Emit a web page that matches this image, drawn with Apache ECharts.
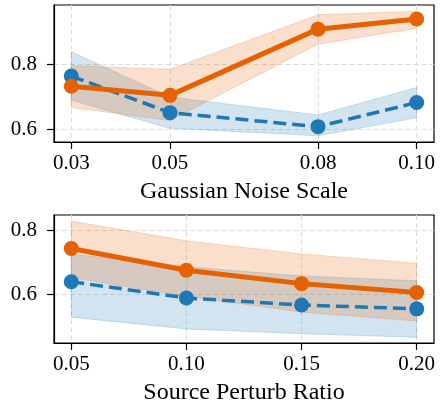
<!DOCTYPE html>
<html>
<head>
    <meta charset="utf-8">
    <script src="https://cdn.jsdelivr.net/npm/echarts@6/dist/echarts.min.js"></script>
    <style>
        html, body { margin: 0; padding: 0; background: #fff; }
    </style>
</head>
<body>
    <div id="main" style="width: 440px;height:406px"></div>

    <script type="text/javascript">
        // top panel: Gaussian noise scale
        var noiseX = [0.03, 0.05, 0.08, 0.10];
        var noiseBlue = [0.764, 0.652, 0.609, 0.683];
        var noiseBlueLo = [0.690, 0.604, 0.581, 0.636];
        var noiseBlueHi = [0.839, 0.700, 0.645, 0.729];
        var noiseOrange = [0.733, 0.705, 0.908, 0.939];
        var noiseOrangeLo = [0.668, 0.628, 0.862, 0.911];
        var noiseOrangeHi = [0.796, 0.785, 0.952, 0.963];

        // bottom panel: source perturb ratio
        var ratioX = [0.05, 0.10, 0.15, 0.20];
        var ratioBlue = [0.640, 0.589, 0.567, 0.555];
        var ratioBlueLo = [0.529, 0.492, 0.477, 0.466];
        var ratioBlueHi = [0.727, 0.687, 0.658, 0.643];
        var ratioOrange = [0.744, 0.676, 0.634, 0.606];
        var ratioOrangeLo = [0.653, 0.594, 0.545, 0.517];
        var ratioOrangeHi = [0.830, 0.768, 0.727, 0.698];

        var yTicks = [0.6, 0.8];

        var BLUE = '#1f77b4';
        var ORANGE = '#e66100';
        var FONT = 'Liberation Serif';

        function pairs(xs, ys) {
            return xs.map(function (x, i) { return [x, ys[i]]; });
        }

        // filled band between lo and hi, drawn as one polygon
        function band(xs, lo, hi, color, gi) {
            return {
                type: 'custom',
                xAxisIndex: gi,
                yAxisIndex: gi,
                silent: true,
                z: 1,
                data: xs.map(function (x, i) { return [x, lo[i], hi[i]]; }),
                encode: { x: 0, y: [1, 2] },
                renderItem: function (params, api) {
                    if (params.dataIndex !== 0) return null;
                    var pts = [];
                    for (var i = 0; i < xs.length; i++) pts.push(api.coord([xs[i], hi[i]]));
                    for (var j = xs.length - 1; j >= 0; j--) pts.push(api.coord([xs[j], lo[j]]));
                    return {
                        type: 'polygon',
                        shape: { points: pts },
                        style: { fill: color, stroke: color, lineWidth: 1 }
                    };
                }
            };
        }

        function line(xs, ys, color, dashed, gi) {
            return {
                type: 'line',
                xAxisIndex: gi,
                yAxisIndex: gi,
                data: pairs(xs, ys),
                symbol: 'circle',
                symbolSize: 15,
                showSymbol: true,
                z: dashed ? 3 : 4,
                itemStyle: { color: color, borderWidth: 0 },
                lineStyle: dashed ? { color: color, width: 3.5, type: [13, 6] } : { color: color, width: 5 },
                animation: false
            };
        }

        function xAxisOf(gi, min, max, ticks, name) {
            return {
                type: 'value',
                gridIndex: gi,
                min: min,
                max: max,
                name: name,
                nameLocation: 'middle',
                nameGap: 38,
                nameTextStyle: { fontFamily: FONT, fontSize: 24, color: '#000' },
                axisLine: { show: true, lineStyle: { color: '#000', width: 1.2 } },
                axisTick: { show: true, length: 7, lineStyle: { color: '#000', width: 1.2 }, customValues: ticks },
                axisLabel: {
                    customValues: ticks, margin: 11,
                    fontFamily: FONT, fontSize: 21, color: '#000',
                    formatter: function (v) { return v.toFixed(2); }
                },
                splitLine: { show: true, lineStyle: { color: '#dcdcdc', type: [5, 3], width: 1 } }
            };
        }

        function yAxisOf(gi, min, max) {
            return {
                type: 'value',
                gridIndex: gi,
                min: min,
                max: max,
                axisLine: { show: true, lineStyle: { color: '#000', width: 1.2 } },
                axisTick: { show: true, length: 7, lineStyle: { color: '#000', width: 1.2 }, customValues: yTicks },
                axisLabel: {
                    customValues: yTicks, margin: 17,
                    fontFamily: FONT, fontSize: 21, color: '#000',
                    formatter: function (v) { return v.toFixed(1); }
                },
                splitLine: { show: true, lineStyle: { color: '#dcdcdc', type: [5, 3], width: 1 } }
            };
        }

        var myChart = echarts.init(document.getElementById('main'));
        var option = {
            animation: false,
            grid: [
                { left: 54, right: 6, top: 5, height: 137, show: true, borderColor: '#000', borderWidth: 1.2, backgroundColor: 'transparent' },
                { left: 54, right: 6, top: 215, height: 136, show: true, borderColor: '#000', borderWidth: 1.2, backgroundColor: 'transparent' }
            ],
            xAxis: [
                xAxisOf(0, 0.0265, 0.1035, noiseX, 'Gaussian Noise Scale'),
                xAxisOf(1, 0.0425, 0.2075, ratioX, 'Source Perturb Ratio')
            ],
            yAxis: [
                yAxisOf(0, 0.562, 0.982),
                yAxisOf(1, 0.448, 0.849)
            ],
            series: [
                band(noiseX, noiseBlueLo, noiseBlueHi, 'rgba(31,119,180,0.2)', 0),
                band(noiseX, noiseOrangeLo, noiseOrangeHi, 'rgba(230,97,0,0.2)', 0),
                line(noiseX, noiseBlue, BLUE, true, 0),
                line(noiseX, noiseOrange, ORANGE, false, 0),
                band(ratioX, ratioBlueLo, ratioBlueHi, 'rgba(31,119,180,0.2)', 1),
                band(ratioX, ratioOrangeLo, ratioOrangeHi, 'rgba(230,97,0,0.2)', 1),
                line(ratioX, ratioBlue, BLUE, true, 1),
                line(ratioX, ratioOrange, ORANGE, false, 1)
            ]
        };
        myChart.setOption(option);
    </script>
</body>
</html>
